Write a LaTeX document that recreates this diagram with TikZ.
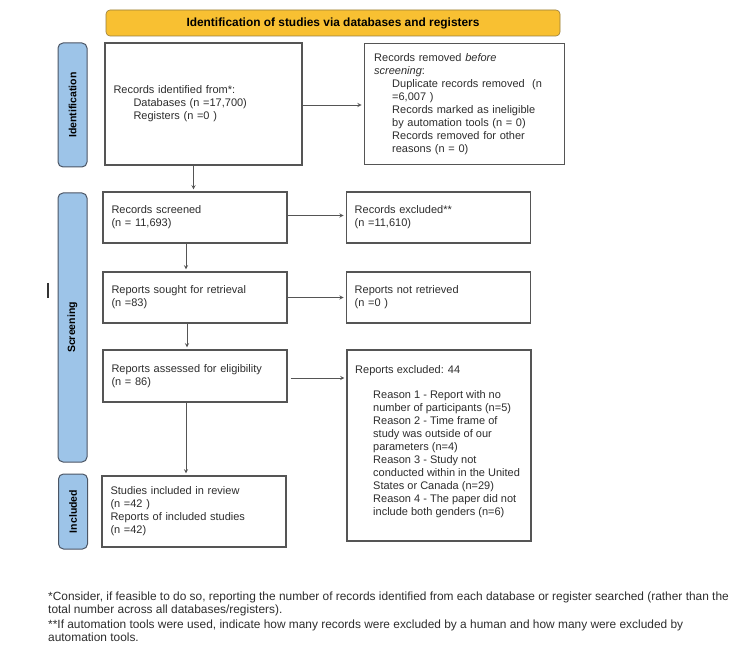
\documentclass[tikz,border=0pt]{standalone}
\usepackage{fontspec}
\setmainfont{Liberation Sans}
\usepackage{tikz}
\usetikzlibrary{arrows,shapes,positioning}
\usepackage{xcolor}
\definecolor{prisyellow}{RGB}{248,192,50}
\definecolor{prisyellowdark}{RGB}{150,125,60}
\definecolor{prisblue}{RGB}{157,196,232}
\definecolor{prisbluedark}{RGB}{75,85,100}
\definecolor{prisgray}{RGB}{85,85,85}
\definecolor{pristext}{RGB}{45,45,45}
\newcommand{\boxfont}{\fontsize{11}{13}\selectfont}
\newcommand{\ind}{\hspace*{18pt}}
\tikzstyle{arrow} = [->,>=stealth,line width=0.9pt,color=prisgray,shorten >=2pt]
\tikzstyle{record} = [rectangle, draw=prisgray, line width=1.2pt, fill=white, minimum width=184pt, minimum height=51pt, inner xsep=8.5pt, text width=167pt, align=left, text=pristext, font=\boxfont]
\tikzstyle{phase} = [rectangle, rounded corners=5pt, draw=prisbluedark, fill=prisblue, line width=1pt, rotate=90, minimum height=29pt, font=\fontsize{10.5}{12}\selectfont\bfseries]
\tikzstyle{header} = [rectangle, rounded corners=4pt, draw=prisyellowdark, fill=prisyellow, line width=0.6pt, minimum width=454pt, minimum height=26pt, font=\fontsize{11.9}{13}\selectfont\bfseries]
\tikzstyle{footnote} = [anchor=north west, inner sep=0pt, align=left, text=pristext, font=\fontsize{11.9}{12.2}\selectfont]

\begin{document}
\begin{tikzpicture}[x=1pt,y=-1pt]
\useasboundingbox (0,0) rectangle (750,652);

% Header
\node (head) [header] at (333,23) {Identification of studies via databases and registers};

% Phase bars
\node (idbar) [phase, minimum width=124pt] at (72.5,105) {Identification};
\node (scrbar) [phase, minimum width=269pt] at (72.5,327.5) {Screening};
\node (incbar) [phase, minimum width=75pt] at (73,511.5) {Included};
\draw[line width=1.8pt, black!80] (48,283) -- (48,298);

% Identification
\node (idrec) [record, minimum width=197pt, text width=180pt, minimum height=122pt] at (203.5,104)
  {Records identified from*:\\ \hspace*{20pt}Databases (n =17,700)\\ \hspace*{20pt}Registers (n =0 )};
\node (removed) [record, minimum width=197pt, text width=180pt, minimum height=121pt, inner xsep=10pt, right=61pt of idrec]
  {Records removed \textit{before}\\ \textit{screening}:\\ \ind Duplicate records removed~~(n\\ \ind =6,007 )\\
   \ind Records marked as ineligible\\ \ind by automation tools (n = 0)\\ \ind Records removed for other\\ \ind reasons (n = 0)};

% Screening
\node (screened) [record] at (195,217.5) {Records screened\\ (n = 11,693)};
\node (excluded) [record, right=58pt of screened] {Records excluded**\\ (n =11,610)};
\node (sought) [record] at (195,297.5) {Reports sought for retrieval\\ (n =83)};
\node (notretr) [record, right=58pt of sought] {Reports not retrieved\\ (n =0 )};
\node (assessed) [record, minimum height=52pt] at (195,376) {Reports assessed for eligibility\\ (n = 86)};
\node (repexcl) [record, minimum height=191pt] at (439,445.5) {};
\node (repexcltxt) [anchor=north west, inner sep=0pt, align=left, text=pristext, font=\boxfont] at (355,365)
  {Reports excluded: 44\\[12pt]
   \ind Reason 1 - Report with no\\ \ind number of participants (n=5)\\ \ind Reason 2 - Time frame of\\
   \ind study was outside of our\\ \ind parameters (n=4)\\ \ind Reason 3 - Study not\\
   \ind conducted within in the United\\ \ind States or Canada (n=29)\\ \ind Reason 4 - The paper did not\\
   \ind include both genders (n=6)};

% Included
\node (included) [record, minimum height=71pt] at (194,511.5)
  {Studies included in review\\ (n =42 )\\ Reports of included studies\\ (n =42)};

% Arrows
\draw[arrow] ([yshift=-1pt]idrec.east) -- ([yshift=-1pt]idrec.east -| removed.west);
\draw[arrow] ([xshift=-10pt]idrec.south) -- ([xshift=-10pt]idrec.south |- screened.north);
\draw[arrow] ([yshift=2pt]screened.east) -- ([yshift=2pt]excluded.west);
\draw[arrow] ([xshift=-9pt]screened.south) -- ([xshift=-9pt]screened.south |- sought.north);
\draw[arrow] (sought.east) -- (notretr.west);
\draw[arrow] ([xshift=-8pt]sought.south) -- ([xshift=-8pt]sought.south |- assessed.north);
\draw[arrow, shorten <=3pt] ([yshift=-2pt]assessed.east) -- ([yshift=-2pt]assessed.east -| repexcl.west);
\draw[arrow] ([xshift=-9pt]assessed.south) -- ([xshift=-9pt]assessed.south |- included.north);

% Footnotes
\node (fn1) [footnote] at (48,592) {*Consider, if feasible to do so, reporting the number of records identified from each database or register searched (rather than the\\ total number across all databases/registers).};
\node (fn2) [footnote] at (48,620) {**If automation tools were used, indicate how many records were excluded by a human and how many were excluded by\\ automation tools.};
\end{tikzpicture}
\end{document}
